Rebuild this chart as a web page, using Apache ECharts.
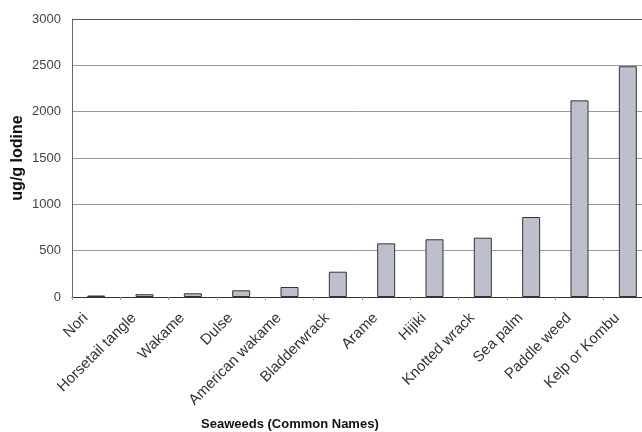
<!DOCTYPE html>
<html>
<head>
<meta charset="utf-8">
<script src="https://cdn.jsdelivr.net/npm/echarts@6/dist/echarts.min.js"></script>
<style>
html,body{margin:0;padding:0;background:#fff;}
#c{width:642px;height:432px;}
</style>
</head>
<body>
<div id="c"></div>
<script>
var categories = ["Nori","Horsetail tangle","Wakame","Dulse","American wakame","Bladderwrack","Arame","Hijiki","Knotted wrack","Sea palm","Paddle weed","Kelp or Kombu"];
var iodine = [16, 30, 40, 72, 108, 273, 579, 623, 640, 863, 2122, 2490];
var yTicks = [0, 500, 1000, 1500, 2000, 2500, 3000];

var chart = echarts.init(document.getElementById('c'));
chart.setOption({
  animation: false,
  backgroundColor: '#ffffff',
  title: {
    text: 'Seaweeds (Common Names)',
    left: 196,
    top: 413,
    textStyle: {fontFamily: 'Liberation Sans, Arial', fontSize: 13, fontWeight: 'bold', color: '#111'}
  },
  grid: {left: 72, width: 580, top: 19, height: 278, containLabel: false, outerBoundsMode: 'none'},
  xAxis: {
    type: 'category',
    data: categories,
    axisLine: {show: true, lineStyle: {color: '#333', width: 1}},
    axisTick: {show: true, length: 3, alignWithLabel: false, lineStyle: {color: '#999'}},
    axisLabel: {rotate: 45, interval: 0, margin: 8, padding: [0, 15, 0, 0], fontFamily: 'Liberation Sans, Arial', fontSize: 15, color: '#333'},
    splitLine: {show: false}
  },
  yAxis: {
    type: 'value',
    min: yTicks[0],
    max: yTicks[yTicks.length - 1],
    interval: 500,
    name: 'ug/g Iodine',
    nameLocation: 'middle',
    nameGap: 46,
    nameMoveOverlap: false,
    nameTextStyle: {fontFamily: 'Liberation Sans, Arial', fontSize: 16, fontWeight: 'bold', color: '#111'},
    axisLine: {show: true, lineStyle: {color: '#666', width: 1}},
    axisTick: {show: false},
    axisLabel: {margin: 11, fontFamily: 'Liberation Sans, Arial', fontSize: 13, color: '#444',
      formatter: function (v) { return String(v); }},
    splitLine: {show: true, lineStyle: {color: ['#9a9a9a','#9a9a9a','#9a9a9a','#9a9a9a','#9a9a9a','#9a9a9a','#555'], width: 1}}
  },
  series: [{
    type: 'bar',
    data: iodine,
    barWidth: 18,
    itemStyle: {color: '#bcc0cc', borderColor: '#333', borderWidth: 1}
  }]
});
</script>
</body>
</html>
